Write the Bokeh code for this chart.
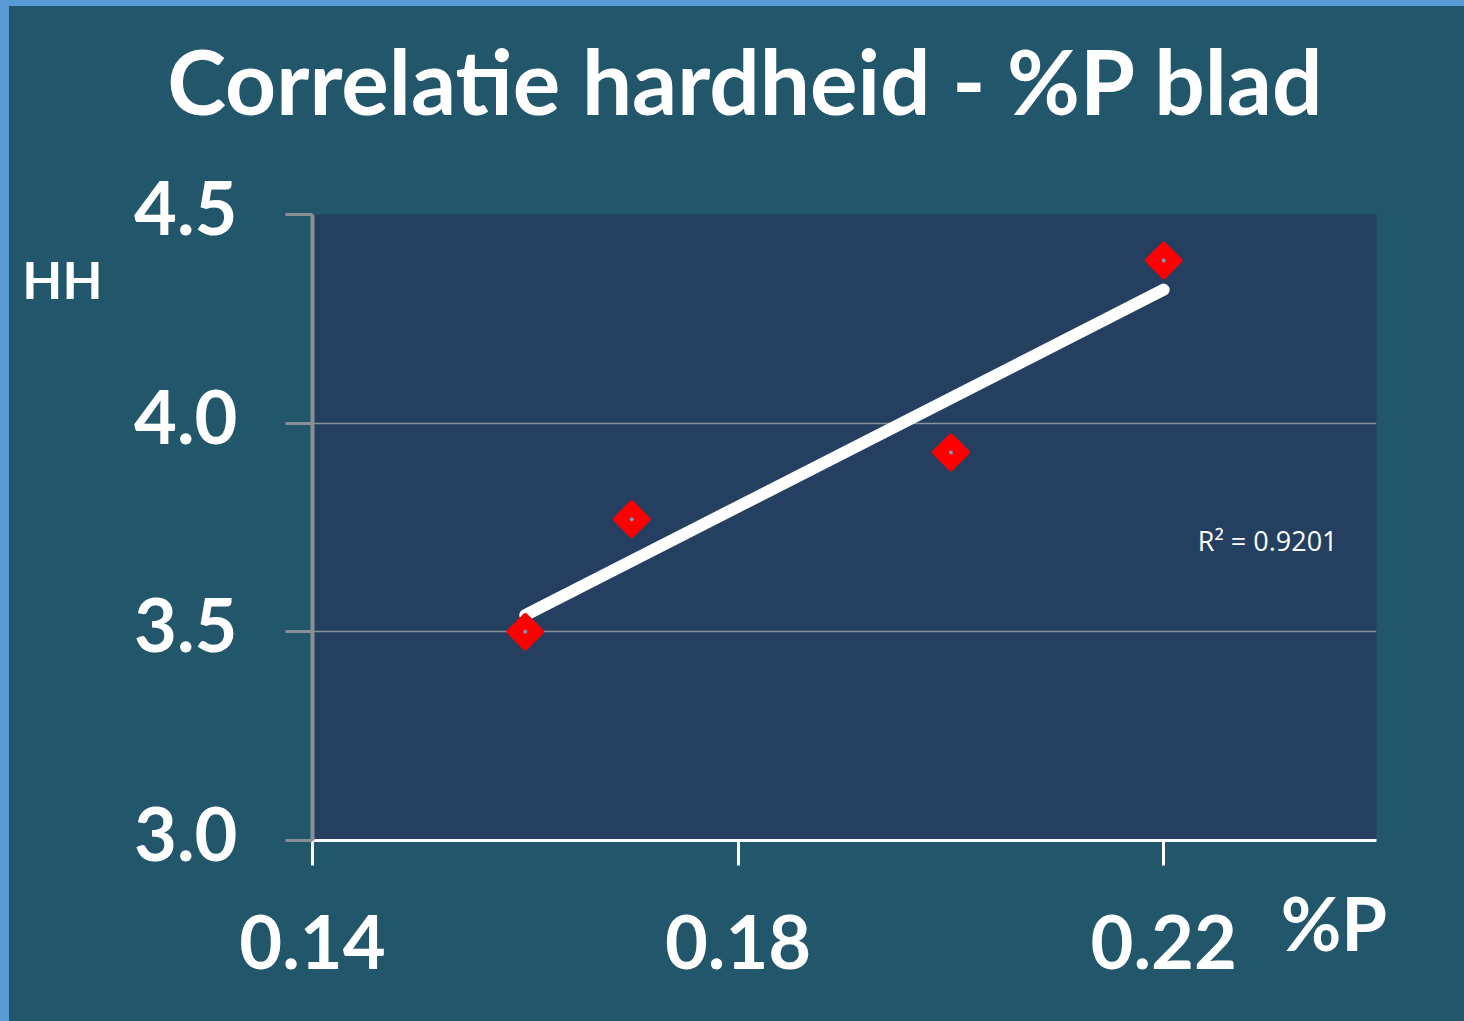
import numpy as np
from bokeh.plotting import figure
from bokeh.models import (ColumnDataSource, Label, FixedTicker, Range1d, LinearAxis,
                          GlobalInlineStyleSheet)
from bokeh.embed import file_html
from bokeh.resources import INLINE

# Data
p_leaf = [0.16, 0.17, 0.20, 0.22]
hardness = [3.50, 3.77, 3.93, 4.39]
x_ticks = [0.14, 0.18, 0.22]
x_tick_labels = ["0.14", "0.18", "0.22"]
y_ticks = [3.0, 3.5, 4.0, 4.5]
y_tick_labels = ["3.0", "3.5", "4.0", "4.5"]
title_text = "Correlatie hardheid - %P blad"
y_name = "HH"
x_name = "%P"
r2_text = "R² = 0.9201"

BG = "#22566A"
PLOT_BG = "#243F5F"
BLUE = "#5B9BD5"
FONT = "Lato"

slope, intercept = np.polyfit(p_leaf, hardness, 1)
fit_x = [min(p_leaf), max(p_leaf)]
fit_y = [slope * v + intercept for v in fit_x]

p = figure(width=1450, height=1010, output_backend="svg", toolbar_location=None, title=None,
           x_range=Range1d(0.14, 0.24), y_range=Range1d(3.0, 4.5),
           min_border_left=303, min_border_right=83, min_border_top=208, min_border_bottom=176)
p.background_fill_color = PLOT_BG
p.border_fill_color = BG
p.outline_line_color = None

xmain = p.xaxis[0]
ymain = p.yaxis[0]

p.stylesheets = [GlobalInlineStyleSheet(css=(
    "html,body{margin:0;}"
    "body{padding:6px 0 0 9px;background:linear-gradient(to right," + BLUE + " 9px,transparent 9px),"
    "linear-gradient(to bottom," + BLUE + " 6px," + BG + " 6px);min-height:100vh;box-sizing:border-box;}"))]

# grid
p.xgrid.grid_line_color = None
p.ygrid.ticker = FixedTicker(ticks=y_ticks)
p.ygrid.grid_line_color = "#8A939C"
p.ygrid.grid_line_width = 1.5

# x axis: line and tick marks only
xmain.ticker = FixedTicker(ticks=x_ticks)
xmain.axis_line_color = "white"
xmain.axis_line_width = 3
xmain.major_tick_line_color = "white"
xmain.major_tick_line_width = 3
xmain.major_tick_out = 25
xmain.major_tick_in = 0
xmain.minor_tick_line_color = None
xmain.major_label_standoff = 0
xmain.major_label_text_font_size = "1px"
xmain.major_label_text_alpha = 0

# y axis
ymain.ticker = FixedTicker(ticks=y_ticks)
ymain.major_label_overrides = {t: s + "\n" for t, s in zip(y_ticks, y_tick_labels)}
ymain.axis_line_color = "#8A8F96"
ymain.axis_line_width = 4
ymain.major_tick_line_color = "#8A8F96"
ymain.major_tick_line_width = 3
ymain.major_tick_out = 27
ymain.major_tick_in = 0
ymain.minor_tick_line_color = None
ymain.major_label_standoff = 48
ymain.major_label_text_font = FONT
ymain.major_label_text_font_style = "bold"
ymain.major_label_text_font_size = "74px"
ymain.major_label_text_line_height = 0.18
ymain.major_label_text_color = "white"

# title, drawn as the single label of an axis above the plot
title_pos = 0.18075
title_axis = LinearAxis(ticker=FixedTicker(ticks=[title_pos]), major_label_overrides={title_pos: title_text},
                        axis_line_color=None, major_tick_line_color=None, minor_tick_line_color=None,
                        major_tick_out=0, major_tick_in=0,
                        major_label_standoff=81, major_label_text_font=FONT,
                        major_label_text_font_style="bold", major_label_text_font_size="89px",
                        major_label_text_color="white")
p.add_layout(title_axis, "above")

# x axis labels (numbers + axis name "%P", which sits a little higher)
xp_pos = 0.236
lab_over = {t: "\n" + s for t, s in zip(x_ticks, x_tick_labels)}
lab_over[xp_pos] = x_name
xlab_axis = LinearAxis(ticker=FixedTicker(ticks=x_ticks + [xp_pos]), major_label_overrides=lab_over,
                       axis_line_color=None, major_tick_line_color=None, minor_tick_line_color=None,
                       major_tick_out=0, major_tick_in=0,
                       major_label_standoff=12, major_label_text_font=FONT,
                       major_label_text_font_style="bold", major_label_text_font_size="74px",
                       major_label_text_line_height=0.21, major_label_text_color="white")
p.add_layout(xlab_axis, "below")

# "HH" name: extra left axis with a single labelled tick
hh_pos = 4.345
hh_axis = LinearAxis(ticker=FixedTicker(ticks=[hh_pos]), major_label_overrides={hh_pos: y_name},
                     axis_line_color=None, major_tick_line_color=None, minor_tick_line_color=None,
                     major_tick_out=0, major_tick_in=0,
                     major_label_standoff=29, major_label_text_font=FONT,
                     major_label_text_font_style="bold", major_label_text_font_size="52px",
                     major_label_text_color="white")
p.add_layout(hh_axis, "left")

# trend line
p.line(fit_x, fit_y, line_color="white", line_width=12, line_cap="round")

# markers
src = ColumnDataSource(dict(x=p_leaf, y=hardness))
p.scatter("x", "y", source=src, marker="square", size=23, angle=np.pi / 4,
          fill_color="#FF0000", line_color="#FF0000", line_width=5, line_join="round")
p.scatter("x", "y", source=src, marker="circle", size=4, fill_color="#7D97B5", line_color=None)

# R² text
p.add_layout(Label(x=0.2232, y=3.719, text=r2_text, text_align="left", text_baseline="middle",
                   text_font="Open Sans", text_font_size="27px", text_color="white"))

open("out.html", "w").write(file_html(p, INLINE))
